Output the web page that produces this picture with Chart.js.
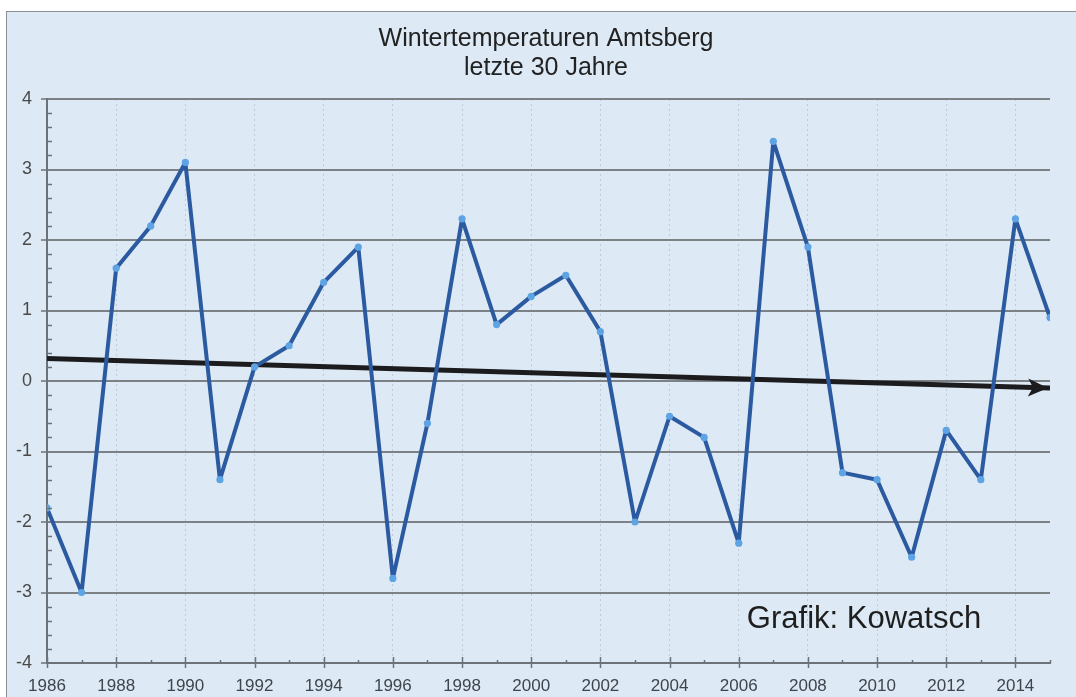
<!DOCTYPE html>
<html>
<head>
<meta charset="utf-8">
<script src="https://cdn.jsdelivr.net/npm/chart.js@4/dist/chart.umd.min.js"></script>
<style>
    html, body {
        margin: 0;
        padding: 0;
        background: #ffffff;
        width: 1076px;
        height: 697px;
        overflow: hidden;
    }
    .panel {
        position: absolute;
        left: 6px;
        top: 11px;
        width: 1070px;
        height: 686px;
        background: #dde9f5;
        border-left: 1px solid #8c9096;
        border-top: 1px solid #8c9096;
        box-sizing: border-box;
    }
    .wrap {
        position: absolute;
        left: 0;
        top: 0;
        width: 1076px;
        height: 697px;
    }
</style>
</head>
<body>
<div class="panel"></div>
<div class="wrap"><canvas id="winterChart" width="1076" height="697"></canvas></div>
<script>
const years = [
    1986, 1987, 1988, 1989, 1990, 1991, 1992, 1993, 1994, 1995,
    1996, 1997, 1998, 1999, 2000, 2001, 2002, 2003, 2004, 2005,
    2006, 2007, 2008, 2009, 2010, 2011, 2012, 2013, 2014, 2015
];
const winterTemps = [
    -1.8, -3.0, 1.6, 2.2, 3.1, -1.4, 0.2, 0.5, 1.4, 1.9,
    -2.8, -0.6, 2.3, 0.8, 1.2, 1.5, 0.7, -2.0, -0.5, -0.8,
    -2.3, 3.4, 1.9, -1.3, -1.4, -2.5, -0.7, -1.4, 2.3, 0.9
];
const trendYears = [1986, 2015];
const trendValues = [0.32, -0.1];
const titleLines = ["Wintertemperaturen Amtsberg", "letzte 30 Jahre"];
const creditText = "Grafik: Kowatsch";

const fontFamily = "'Liberation Sans', Arial, sans-serif";

// title, credit, minor ticks and trend arrowhead
const decorPlugin = {
    id: "decor",
    afterDraw(chart) {
        const { ctx, scales: { x, y } } = chart;
        ctx.save();

        // y minor ticks, inside the axis
        ctx.strokeStyle = "#6d7278";
        ctx.lineWidth = 1.5;
        for (let v = -40; v <= 40; v += 2) {
            if (v % 10 === 0) continue;
            const py = Math.round(y.getPixelForValue(v / 10)) + 0.5;
            ctx.beginPath();
            ctx.moveTo(x.left, py);
            ctx.lineTo(x.left + 5, py);
            ctx.stroke();
        }

        // x ticks
        years.forEach((yr) => {
            const px = Math.round(x.getPixelForValue(yr)) + 0.5;
            ctx.beginPath();
            if (yr % 2 === 0) {
                ctx.moveTo(px, y.bottom - 6);
                ctx.lineTo(px, y.bottom + 5);
            } else {
                ctx.moveTo(px, y.bottom - 3);
                ctx.lineTo(px, y.bottom);
            }
            ctx.stroke();
        });

        // arrowhead at end of trend
        const pts = chart.getDatasetMeta(1).data;
        const a = pts[0], b = pts[pts.length - 1];
        const ang = Math.atan2(b.y - a.y, b.x - a.x);
        ctx.translate(b.x - 2, b.y);
        ctx.rotate(ang);
        ctx.fillStyle = "#1c1c1e";
        ctx.beginPath();
        ctx.moveTo(0, 0);
        ctx.lineTo(-20, -9);
        ctx.lineTo(-15, 0);
        ctx.lineTo(-20, 9);
        ctx.closePath();
        ctx.fill();
        ctx.setTransform(1, 0, 0, 1, 0, 0);

        // title
        ctx.fillStyle = "#222222";
        ctx.textAlign = "center";
        ctx.textBaseline = "middle";
        ctx.font = "25px " + fontFamily;
        ctx.fillText(titleLines[0], 546, 39);
        ctx.fillText(titleLines[1], 546, 68);

        // credit
        ctx.font = "31px " + fontFamily;
        ctx.fillStyle = "#1e1e1e";
        ctx.fillText(creditText, 864, 619);

        ctx.restore();
    }
};

const trendData = trendYears.map((yr, i) => ({ x: yr, y: trendValues[i] }));

new Chart(document.getElementById("winterChart"), {
    type: "line",
    data: {
        datasets: [
            {
                label: "Wintertemperatur",
                data: years.map((yr, i) => ({ x: yr, y: winterTemps[i] })),
                borderColor: "#2c5aa0",
                borderWidth: 4,
                borderJoinStyle: "round",
                pointRadius: 3.6,
                pointBackgroundColor: "#5ea4e4",
                pointBorderWidth: 0,
                tension: 0,
                order: 1
            },
            {
                label: "Trend",
                data: trendData,
                borderColor: "#1c1c1e",
                borderWidth: 5,
                pointRadius: 0,
                tension: 0,
                order: 2
            }
        ]
    },
    options: {
        responsive: false,
        animation: false,
        layout: {
            padding: { top: 99, right: 26, bottom: 0, left: 0 }
        },
        plugins: {
            legend: { display: false },
            tooltip: { enabled: false },
            title: { display: false }
        },
        scales: {
            x: {
                type: "linear",
                min: 1986,
                max: 2015,
                afterFit(scale) { scale.height = 34; },
                ticks: {
                    stepSize: 1,
                    autoSkip: false,
                    maxRotation: 0,
                    padding: 13,
                    color: "#3f454d",
                    font: { family: fontFamily, size: 17 },
                    callback: (v) => (v % 2 === 0 ? String(v) : "")
                },
                grid: {
                    drawTicks: false,
                    lineWidth: 1,
                    color: (ctx) => (ctx.tick && ctx.tick.value % 2 === 0 ? "rgba(160,172,186,0.5)" : "rgba(0,0,0,0)")
                },
                border: {
                    display: true,
                    color: "#6d7278",
                    width: 2,
                    dash: [2, 3]
                }
            },
            y: {
                min: -4,
                max: 4,
                afterFit(scale) { scale.width = 47; },
                ticks: {
                    stepSize: 1,
                    padding: 9,
                    color: "#4a4a4a",
                    font: { family: fontFamily, size: 18 }
                },
                grid: {
                    color: "#7c8186",
                    lineWidth: 2,
                    tickLength: 6,
                    tickColor: "#6d7278",
                    tickWidth: 1.5
                },
                border: {
                    display: true,
                    color: "#6d7278",
                    width: 2
                }
            }
        }
    },
    plugins: [decorPlugin]
});
</script>
</body>
</html>
